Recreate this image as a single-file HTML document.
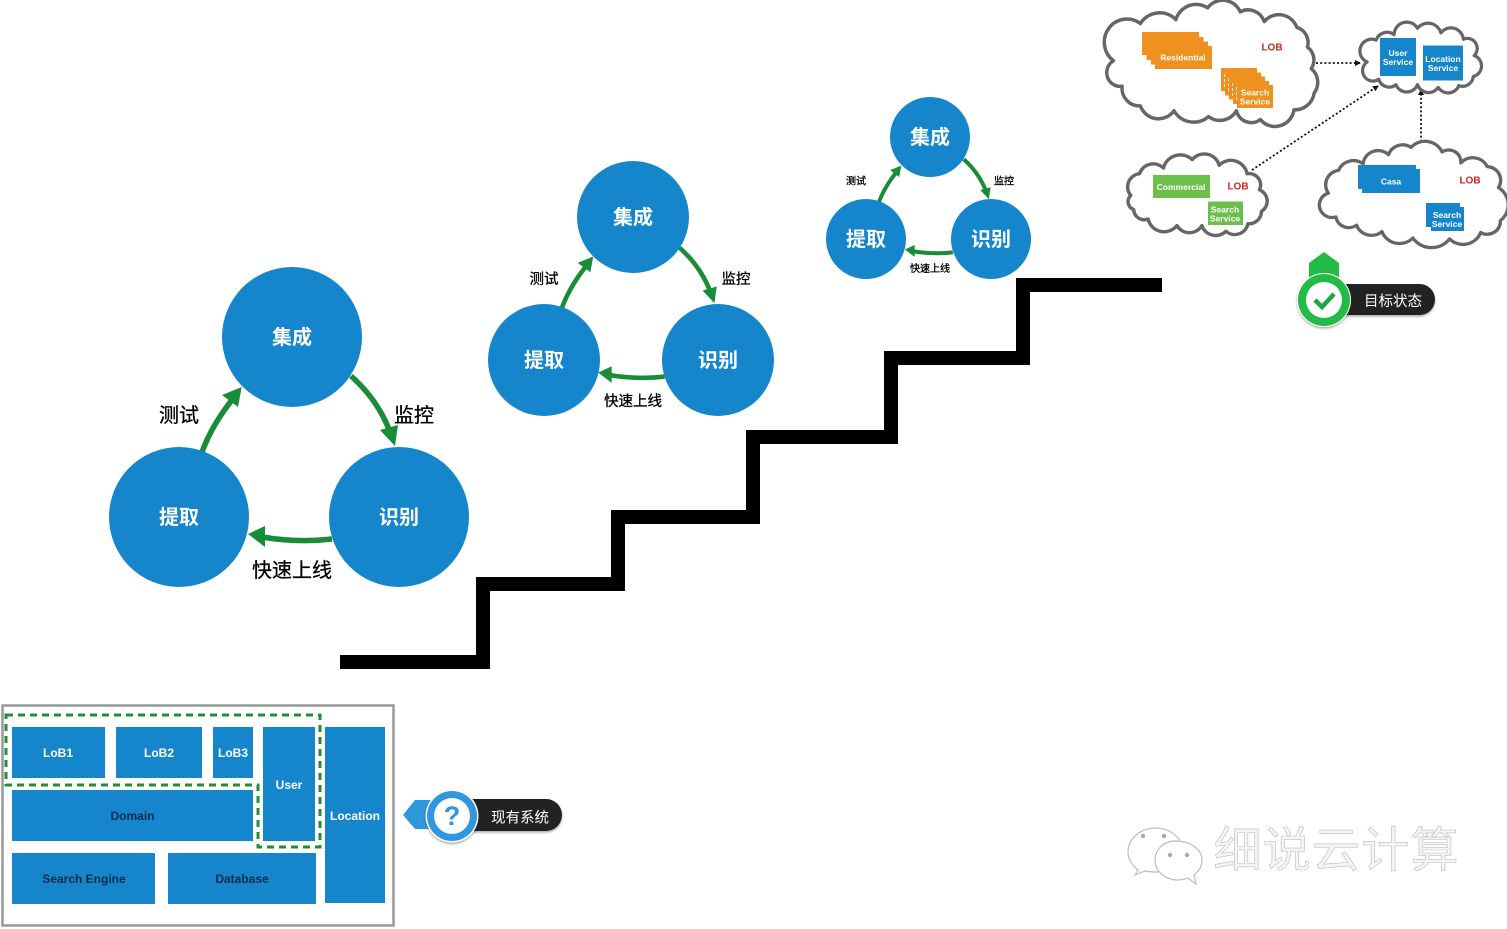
<!DOCTYPE html>
<html><head><meta charset="utf-8">
<style>
html,body{margin:0;padding:0;background:#fff;}
svg{display:block;}
text{font-family:"Liberation Sans","Noto Sans CJK SC",sans-serif;text-anchor:middle;dominant-baseline:central;}
.n{fill:#fff;font-weight:bold;transform:translateY(1px);}
.l{fill:#000;stroke:#000;stroke-width:.3;transform:translateY(1px);}
.t{fill:#fff;font-weight:bold;font-size:12px;}
.d{fill:#0c2a50;font-weight:bold;font-size:12px;}
.s{fill:#fff;font-weight:bold;font-size:8.5px;}
.lob{fill:#c8281e;font-weight:bold;font-size:10px;}
.cloud{fill:#fff;stroke:#666;stroke-width:3.6;stroke-linejoin:round;}
.o{fill:#f0901e;}
.b{fill:#1686cc;}
.g{fill:#6cc04a;}
.dot{fill:none;stroke:#111;stroke-width:1.8;stroke-dasharray:2 2.2;}
.bt{fill:#fff;font-size:14.5px;transform:translateY(2px);}
.wm{fill:#f4f4f4;stroke:#bcbcbc;stroke-width:.6;font-size:48px;}
</style></head>
<body>
<svg width="1507" height="929" viewBox="0 0 1507 929" xmlns="http://www.w3.org/2000/svg">
<defs>
<marker id="dt" markerUnits="userSpaceOnUse" markerWidth="6" markerHeight="6" refX="5" refY="3" orient="auto" viewBox="0 0 6 6"><path d="M0,0 L6,3 L0,6 Z" fill="#111"/></marker>
<filter id="sh" x="-20%" y="-20%" width="140%" height="150%"><feDropShadow dx="0" dy="1.5" stdDeviation="1.2" flood-color="#000" flood-opacity=".35"/></filter>
<g id="arrows">
<path fill="none" stroke="#188c36" d="M202,452 Q212,425 232,400"/>
<path fill="none" stroke="#188c36" d="M351,376 Q378,400 390,432"/>
<path fill="none" stroke="#188c36" d="M332,539 Q298,543 262,537"/>
<path fill="#188c36" d="M241.700,387 L222,395 L238,407 Z"/>
<path fill="#188c36" d="M395,446 L380,430 L398,425 Z"/>
<path fill="#188c36" d="M248,534 L265,526 L265,547 Z"/>
</g>
</defs>

<!-- stairs -->
<path d="M340,662 H483 V584 H618 V517 H753 V437 H891 V358 H1023 V285 H1162" fill="none" stroke="#000" stroke-width="14" stroke-linejoin="miter"/>

<!-- big cycle -->
<use href="#arrows" stroke-width="5.500"/>
<circle class="b" cx="292" cy="337" r="70"/>
<circle class="b" cx="179" cy="517" r="70"/>
<circle class="b" cx="399" cy="517" r="70"/>
<text class="n" x="292" y="337" font-size="20">集成</text>
<text class="n" x="179" y="517" font-size="20">提取</text>
<text class="n" x="399" y="517" font-size="20">识别</text>
<text class="l" x="179" y="415" font-size="20">测试</text>
<text class="l" x="414" y="415" font-size="20">监控</text>
<text class="l" x="292" y="570" font-size="20">快速上线</text>

<!-- middle cycle -->
<use href="#arrows" transform="matrix(.79 0 0 .79 402.320 -49.230)" stroke-width="5.800"/>
<circle class="b" cx="633" cy="217" r="56"/>
<circle class="b" cx="544" cy="360" r="56"/>
<circle class="b" cx="718" cy="360" r="56"/>
<text class="n" x="633" y="217" font-size="20">集成</text>
<text class="n" x="544" y="360" font-size="20">提取</text>
<text class="n" x="718" y="360" font-size="20">识别</text>
<text class="l" x="544" y="279" font-size="14.500">测试</text>
<text class="l" x="736" y="279" font-size="14.500">监控</text>
<text class="l" x="633" y="401" font-size="14.500">快速上线</text>

<!-- small cycle -->
<use href="#arrows" transform="matrix(.571 0 0 .571 763.300 -55.400)" stroke-width="7"/>
<circle class="b" cx="930" cy="137" r="40"/>
<circle class="b" cx="866" cy="239" r="40"/>
<circle class="b" cx="991" cy="239" r="40"/>
<text class="n" x="930" y="137" font-size="20">集成</text>
<text class="n" x="866" y="239" font-size="20">提取</text>
<text class="n" x="991" y="239" font-size="20">识别</text>
<text class="l" x="856" y="181" font-size="10">测试</text>
<text class="l" x="1004" y="181" font-size="10">监控</text>
<text class="l" x="930" y="268.500" font-size="10">快速上线</text>

<!-- clouds -->
<path class="dot" marker-end="url(#dt)" d="M1316,63 H1360"/>
<path class="dot" marker-end="url(#dt)" d="M1252,170 L1378,86"/>
<path class="dot" marker-end="url(#dt)" d="M1421,146 V90"/>

<path class="cloud" transform="matrix(.96 0 0 .98 52.700 0)" d="M1105,62 A22,22 0 0 1 1133,24 A24,24 0 0 1 1170,20 A22,22 0 0 1 1203,8 A20,20 0 0 1 1237,12 A18,18 0 0 1 1262,22 A20,20 0 0 1 1296,28 A16,16 0 0 1 1307,48 A16,16 0 0 1 1311,70 A18,18 0 0 1 1314,95 A20,20 0 0 1 1293,112 A20,20 0 0 1 1258,122 A16,16 0 0 1 1233,113 A20,20 0 0 1 1204,119 A24,24 0 0 1 1168,113 A20,20 0 0 1 1133,108 A18,18 0 0 1 1114,88 A14,14 0 0 1 1105,62 Z"/>
<path class="cloud" transform="matrix(.9 0 0 .91 142.200 5.530)" d="M1361,62 A13,13 0 0 1 1371,38 A13,13 0 0 1 1391,32 A14,14 0 0 1 1417,25 A15,15 0 0 1 1443,30 A14,14 0 0 1 1468,37 A11,11 0 0 1 1480,55 A12,12 0 0 1 1479,78 A12,12 0 0 1 1463,88 A13,13 0 0 1 1440,90 A13,13 0 0 1 1417,87 A13,13 0 0 1 1393,87 A12,12 0 0 1 1374,81 A11,11 0 0 1 1361,62 Z"/>
<path class="cloud" transform="matrix(.96 0 0 .943 47 11.550)" d="M1129,195 A14,14 0 0 1 1138,172 A15,15 0 0 1 1163,166 A18,18 0 0 1 1193,157 A16,16 0 0 1 1221,163 A17,17 0 0 1 1250,172 A12,12 0 0 1 1263,189 A13,13 0 0 1 1265,212 A13,13 0 0 1 1251,225 A14,14 0 0 1 1228,233 A15,15 0 0 1 1203,227 A15,15 0 0 1 1177,227 A17,17 0 0 1 1147,220 A11,11 0 0 1 1132,210 A9,9 0 0 1 1129,195 Z"/>
<path class="cloud" transform="matrix(.94 0 0 .916 87.540 14.510)" d="M1320,195 A16,16 0 0 1 1331,170 A17,17 0 0 1 1357,163 A16,16 0 0 1 1384,153 A16,16 0 0 1 1408,145 A20,20 0 0 1 1441,150 A13,13 0 0 1 1461,162 A17,17 0 0 1 1489,166 A15,15 0 0 1 1501,189 A22,22 0 0 1 1503,225 A14,14 0 0 1 1482,238 A20,20 0 0 1 1449,245 A24,24 0 0 1 1410,244 A20,20 0 0 1 1377,237 A17,17 0 0 1 1350,230 A14,14 0 0 1 1328,221 A8,8 0 0 1 1320,195 Z"/>

<!-- residential cloud content -->
<rect class="o" x="1142" y="32" width="57" height="23"/>
<rect class="o" x="1146.500" y="37" width="57" height="23"/>
<rect class="o" x="1151" y="41.500" width="57" height="23"/>
<rect class="o" x="1155" y="46" width="57" height="23"/>
<text class="s" x="1183" y="57.500">Residential</text>
<rect class="o" x="1221" y="68" width="36" height="23"/>
<rect class="o" x="1225" y="72.500" width="36" height="23"/>
<rect class="o" x="1229" y="76.500" width="36" height="23"/>
<rect class="o" x="1233" y="81" width="36" height="23"/>
<rect class="o" x="1237" y="85" width="36" height="23"/>
<path d="M1224.500,74 V88 M1228.500,78 V92 M1232.500,83 V96 M1236.500,87 V100" stroke="#fff" stroke-width=".8" stroke-dasharray="3 2" fill="none"/>
<text class="s" x="1255" y="92.500">Search</text>
<text class="s" x="1255" y="101.500">Service</text>
<text class="lob" x="1272" y="48">LOB</text>

<!-- services cloud content -->
<rect class="b" x="1380" y="38" width="36" height="38"/>
<text class="s" x="1398" y="53">User</text>
<text class="s" x="1398" y="62">Service</text>
<rect class="b" x="1423" y="45.500" width="40" height="35"/>
<text class="s" x="1443" y="59">Location</text>
<text class="s" x="1443" y="68">Service</text>

<!-- commercial cloud content -->
<rect class="g" x="1153" y="175" width="57" height="23"/>
<text class="s" x="1181" y="187">Commercial</text>
<rect class="g" x="1208" y="201.500" width="35" height="23.500"/>
<text class="s" x="1225" y="209.500">Search</text>
<text class="s" x="1225" y="218.500">Service</text>
<text class="lob" x="1238" y="187">LOB</text>

<!-- casa cloud content -->
<rect class="b" x="1358" y="165" width="58" height="24"/>
<rect class="b" x="1362" y="169" width="58" height="24"/>
<text class="s" x="1391" y="181.500">Casa</text>
<rect class="b" x="1426" y="203" width="34" height="24"/>
<rect class="b" x="1431" y="207" width="33" height="24"/>
<text class="s" x="1447" y="215">Search</text>
<text class="s" x="1447" y="224">Service</text>
<text class="lob" x="1470" y="181">LOB</text>

<!-- target badge -->
<rect x="1330" y="284" width="105" height="31" rx="15.500" fill="#222" filter="url(#sh)"/>
<path d="M1324,252 L1339,263 V290 H1309 V263 Z" fill="#22bb46"/>
<circle cx="1324" cy="300" r="27" fill="#fff" filter="url(#sh)"/>
<circle cx="1324" cy="300" r="26" fill="#22bb46"/>
<circle cx="1324" cy="300" r="18" fill="#fff"/>
<path d="M1315,300 L1322,307 L1334,294" fill="none" stroke="#22a544" stroke-width="4.500"/>
<text class="bt" x="1393" y="300">目标状态</text>

<!-- existing system panel -->
<rect x="2.500" y="705.500" width="391" height="220" fill="#fff" stroke="#999" stroke-width="2.500"/>
<rect class="b" x="12" y="727" width="93" height="51"/>
<rect class="b" x="116" y="727" width="86" height="51"/>
<rect class="b" x="213" y="727" width="40" height="51"/>
<rect class="b" x="263" y="727" width="52" height="114"/>
<rect class="b" x="325" y="727" width="60" height="176"/>
<rect class="b" x="12" y="790" width="241" height="51"/>
<rect class="b" x="12" y="853" width="143" height="51"/>
<rect class="b" x="168" y="853" width="148" height="51"/>
<path d="M6,715 H320 V847 H258 V785 H6 Z" fill="none" stroke="#1f8f35" stroke-width="3" stroke-dasharray="7 5"/>
<text class="t" x="58" y="753">LoB1</text>
<text class="t" x="159" y="753">LoB2</text>
<text class="t" x="233" y="753">LoB3</text>
<text class="t" x="289" y="785">User</text>
<text class="t" x="355" y="816">Location</text>
<text class="d" x="132.500" y="816">Domain</text>
<text class="d" x="84" y="879">Search Engine</text>
<text class="d" x="242" y="879">Database</text>

<!-- current badge -->
<rect x="450" y="799" width="112" height="32" rx="16" fill="#222" filter="url(#sh)"/>
<path d="M403,815 L415,800 H445 V829 H415 Z" fill="#2f97dc"/>
<circle cx="452" cy="816" r="26.500" fill="#fff" filter="url(#sh)"/>
<circle cx="452" cy="816" r="25" fill="#2f97dc"/>
<circle cx="452" cy="816" r="18" fill="#fff"/>
<text x="452" y="816" font-size="27" font-weight="bold" fill="#2f97dc">?</text>
<text class="bt" x="520" y="816.500">现有系统</text>

<!-- watermark -->
<g fill="#fff" stroke="#bdbdbd" stroke-width="1.200">
<path d="M1156,828 C1140,828 1128,839 1128,852 C1128,860 1133,866 1138,870 L1135,875 L1145,871 C1150,872 1154,872 1158,872 C1178,872 1182,840 1178,838 C1173,832 1165,828 1156,828 Z"/>
<path d="M1176,841 C1162,841 1155,851 1155,860 C1155,872 1166,880 1178,880 C1182,880 1185,879 1188,878 L1196,884 L1194,875 C1199,871 1202,866 1202,860 C1202,849 1190,841 1176,841 Z"/>
</g>
<g fill="#a8a8a8"><circle cx="1143" cy="836" r="2.200"/><circle cx="1164" cy="836" r="2.200"/><circle cx="1170" cy="855" r="2.200"/><circle cx="1187" cy="855" r="2.200"/></g>
<text class="wm" x="1336" y="851" textLength="245">细说云计算</text>
</svg>
</body></html>
